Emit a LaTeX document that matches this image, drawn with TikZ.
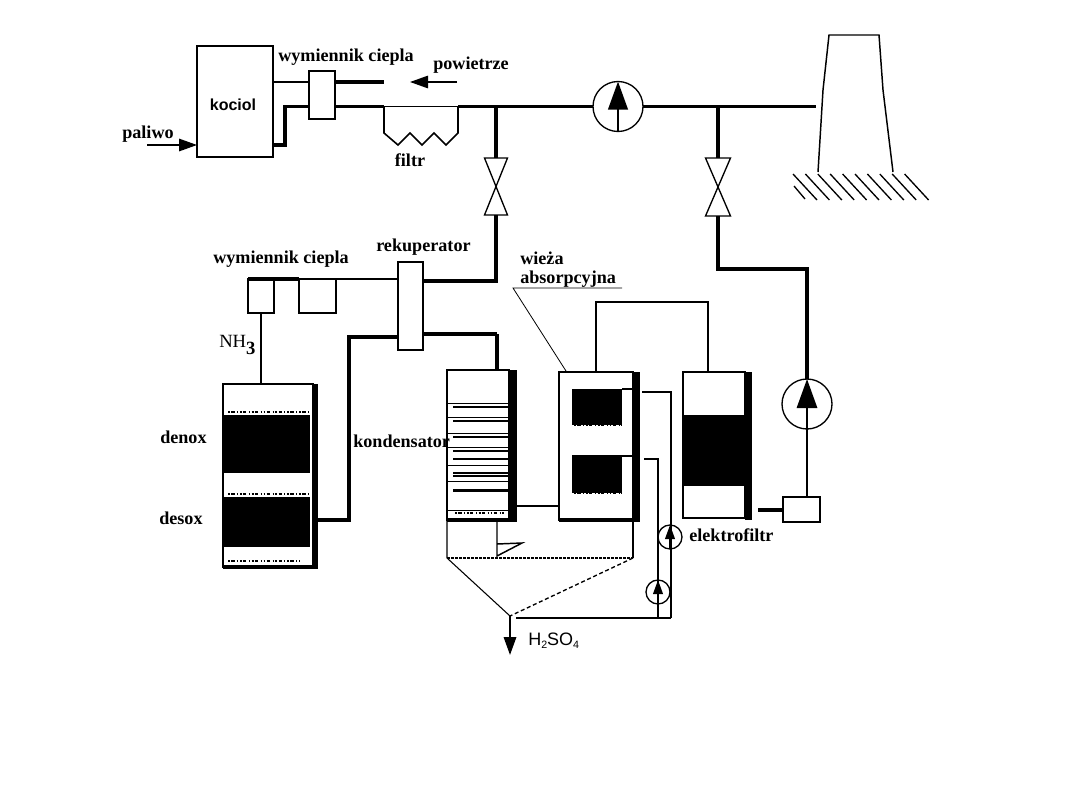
\documentclass[tikz,border=0pt]{standalone}
\usepackage{fontspec}
\usepackage{tikz}
\usetikzlibrary{arrows.meta,calc}
\setmainfont{Liberation Serif}
\newfontfamily\sanslabel{Liberation Sans}

\tikzset{
  txt/.style={inner sep=0pt,font=\fontsize{13.6}{15}\selectfont\bfseries},
  unit/.style 2 args={draw,line width=1pt,inner sep=0pt,outer sep=0pt,minimum width=#1*0.75pt,minimum height=#2*0.75pt},
  ghost/.style 2 args={inner sep=0pt,outer sep=0pt,minimum width=#1*0.75pt,minimum height=#2*0.75pt},
  fan/.style={draw,circle,line width=1pt,inner sep=0pt,outer sep=0pt,minimum size=#1*0.75pt},
  thinline/.style={line width=0.9pt},
  pipe/.style={line width=1.9pt},
  heavy/.style={line width=2.8pt},
  flowhead/.style={-{Triangle[length=#1*0.75pt,width=#1*0.52pt]}},
  speckle/.style={line width=1.6pt,dash pattern=on 1.4pt off 0.9pt on 2.6pt off 1.8pt on 0.8pt off 1.4pt},
}

\begin{document}
\begin{tikzpicture}[x=0.75pt,y=0.75pt,yscale=-1,xscale=1]
\useasboundingbox (0,0) rectangle (1080,810);

% boiler, exchanger, filter
\node[unit={76}{111}] (kociol) at (235,101.5) {};
\node[unit={26}{48}] (wymA) at (322,95) {};
\node[ghost={74}{39}] (filtr) at (421,126) {};
\coordinate (air) at (384,82);
\coordinate (airtip) at (410,82);
\coordinate (airtail) at (457,82);
\coordinate (fuel) at (147,145);
\coordinate (bend) at (285,145);

\draw[thinline] (kociol.east |- air) -- (wymA.west |- air);
\draw[heavy] (wymA.east |- air) -- (air);
\draw[flowhead=18,line width=1pt] (airtail) -- (airtip);
\draw[heavy] (kociol.east |- bend) -- (bend) -- (bend |- filtr.north) -- (wymA.west |- filtr.north);
\draw[heavy] (wymA.east |- filtr.north) -- (filtr.north west);
\draw[thinline] (filtr.north west) -- (filtr.north east);
\draw[flowhead=18,line width=1.2pt] (fuel) -- (kociol.west |- fuel);
\draw[line width=1.2pt] (filtr.north west) -- (384,133) -- (398,145) -- (410,133) -- (422,145) -- (434,133) -- (446,145) -- (458,133) -- (filtr.north east);

% main flue line
\node[fan=50] (fanA) at (618,106.5) {};
\node[ghost={23}{57}] (valveA) at (496,186.5) {};
\node[ghost={25}{58}] (valveB) at (718,187) {};
\coordinate (stack) at (816,106.5);
\draw[heavy] (filtr.north east) -- (fanA.west);
\draw[pipe] (fanA.east) -- (stack);
\draw[heavy] (valveA.north |- fanA.west) -- (valveA.north);
\draw[heavy] (valveB.north |- stack) -- (valveB.north);
\draw[flowhead=28,line width=2pt] (fanA.south) -- (fanA.north);

\foreach \v in {valveA,valveB}
  \draw[line width=1pt] (\v.north west) -- (\v.north east) -- (\v.south west) -- (\v.south east) -- cycle;

% stack and ground
\draw[line width=1.1pt] (818,172) -- (823,90) -- (829,35) -- (879,35) -- (883,90) -- (893,172);
\foreach \i in {0,...,9}
  \draw[line width=1pt] ({793+12.4*\i},174) -- ++(24,26);
\coordinate (shortA) at (794,186);
\coordinate (shortB) at (805,199);
\draw[line width=1pt] (shortA) -- (shortB);

% denox / desox line
\node[unit={26}{34}] (wymB) at (261,296) {};
\node[unit={37}{34}] (wymC) at (317.5,296) {};
\node[unit={25}{88}] (rekup) at (410.5,306) {};
\node[unit={90}{183}] (reaktor) at (268,475.5) {};
\fill (reaktor.north east) rectangle ++(5,185);
\draw[heavy] (reaktor.south west) -- ($(reaktor.south east)+(5,0)$);
\fill (223,415) rectangle (310,473);
\fill (223,497) rectangle (310,547);
\draw[speckle] (228,412) -- (310,412);
\draw[speckle] (228,494) -- (310,494);
\draw[speckle,line width=0.9pt] (228,561) -- (300,561);

\coordinate (hotA) at (496,281);
\coordinate (hotB) at (497,334);
\coordinate (feed) at (349,337);
\coordinate (feedlow) at (349,520);
\draw[heavy] (wymB.north west) -- (wymB.north east) -- (wymC.north west);
\draw[pipe] (wymC.north east) -- (rekup.west |- wymC.north east);
\draw[pipe] (wymB.south) -- (wymB.south |- reaktor.north);
\draw[heavy] (reaktor.east |- feedlow) ++(5,0) -- (feedlow) -- (feed) -- (rekup.west |- feed);
\draw[heavy] (rekup.east |- hotA) -- (hotA) -- (valveA.south);
\draw[heavy] (rekup.east |- hotB) -- (hotB);

% condenser
\node[unit={62}{150}] (kond) at (478,445) {};
\fill (kond.north east) rectangle ++(8,152);
\draw[heavy] (kond.south west) -- ($(kond.south east)+(8,0)$);
\draw[heavy] (hotB) -- (hotB |- kond.north);
\foreach \y in {403,417,433,447,465,481,510}
  \draw[line width=0.7pt] (447,\y) -- (509,\y);
\foreach \y in {407,421,437,451,459,473,476,490,491}
  \draw[line width=1.3pt] (453,\y) -- (509,\y);
\draw[speckle,line width=0.8pt] (455,513) -- (505,513);

% absorber
\node[unit={74}{148}] (wieza) at (596,446) {};
\fill (wieza.north east) rectangle ++(7,150);
\draw[heavy] (wieza.south west) -- ($(wieza.south east)+(7,0)$);
\fill (572,389) rectangle (622,425);
\fill (572,455) rectangle (622,493);
\draw[thinline] (622,389) -- (632,389);
\draw[thinline] (622,456) -- (632,456);
\draw[speckle] (574,425) -- (622,425);
\draw[speckle] (574,493) -- (622,493);

% electrofilter
\node[unit={62}{146}] (elfiltr) at (714,445) {};
\fill (elfiltr.north east) rectangle ++(7,148);
\draw[pipe] (elfiltr.south west) -- ($(elfiltr.south east)+(7,0)$);
\fill (683,415) rectangle (745,486);
\node[unit={37}{25}] (elbox) at (801.5,509.5) {};

\coordinate (link) at (530,506);
\coordinate (elout) at (758,510);
\coordinate (upA) at (596,302);
\coordinate (upB) at (708,302);
\coordinate (elbend) at (718,269);
\coordinate (elcorner) at (807,269);
\draw[pipe] (kond.east |- link) ++(8,0) -- (wieza.west |- link);
\draw[pipe] (wieza.north -| upA) -- (upA) -- (upB) -- (elfiltr.north -| upB);
\draw[heavy] (elout) -- (elbox.west |- elout);

% right hand fan
\node[fan=50] (fanB) at (807,404) {};
\draw[flowhead=29,line width=2pt] (elbox.north -| fanB.south) -- (fanB.north);
\draw[heavy] (fanB.north) -- (elcorner) -- (elbend) -- (valveB.south);

% recirculation pumps
\node[fan=24] (pumpA) at (670,537) {};
\node[fan=24] (pumpB) at (658,592) {};
\coordinate (retA) at (642,392);
\coordinate (retB) at (644,459);
\coordinate (apex) at (510,616);
\coordinate (retC) at (516,618);
\coordinate (retD) at (671,618);
\coordinate (retE) at (658,618);
\coordinate (acid) at (510,655);
\draw[pipe] (retC) -- (retD);
\draw[thinline] (retA) -- (retA -| retD) -- (retD);
\draw[thinline] (retB) -- (retB -| retE) -- (retE);
\draw[flowhead=14,line width=1.2pt] (pumpA.south) -- (pumpA.north);
\draw[flowhead=14,line width=1.2pt] (pumpB.south) -- (pumpB.north);

% sump under condenser and absorber
\coordinate (sumpL) at (447,558);
\coordinate (sumpR) at (633,558);
\draw[line width=0.8pt] (kond.south west) -- (sumpL) -- (apex);
\draw[line width=0.8pt] (wieza.south east) ++(0,2) -- (sumpR);
\draw[dash pattern=on 2pt off 1pt,line width=0.8pt] (sumpL) -- (sumpR);
\draw[densely dashed,line width=1pt] (sumpR) -- (apex);
\draw[flowhead=18,line width=1.4pt] (apex) -- (acid);
\coordinate (drain) at (497,544);
\coordinate (drainlow) at (497,556);
\coordinate (draintip) at (522,543);
\draw[line width=1.1pt] (drain |- kond.south) -- (drainlow) -- (draintip) -- (drain);

% leader to absorber
\coordinate (leader) at (513,288);
\coordinate (leaderend) at (622,288);
\coordinate (leadertip) at (566,371);
\draw[line width=0.6pt] (leaderend) -- (leader) -- (leadertip);

% Text Node
\node[txt,anchor=west] (t1) at (278,57) {wymiennik ciepla};
\node[txt,anchor=west] (t2) at (433,65) {powietrze};
\node[txt,anchor=west] (t3) at (122,134) {paliwo};
\node[txt] (t4) at (410,160) {filtr};
\node[inner sep=0pt,font=\sanslabel\fontsize{12}{14}\selectfont\bfseries] (t5) at (233,105) {kociol};
\node[txt,anchor=west] (t6) at (213,259) {wymiennik ciepla};
\node[txt,anchor=west] (t7) at (376,247) {rekuperator};
\node[txt,anchor=west] (t8) at (520,258) {wieża};
\node[txt,anchor=west] (t9) at (520,279) {absorpcyjna};
\node[inner sep=0pt,anchor=west,font=\fontsize{14}{16}\selectfont] (t10) at (219,345) {NH\raisebox{-5.5pt}{\textbf{3}}};
\node[txt,anchor=west] (t11) at (160,437) {denox};
\node[txt,anchor=west] (t12) at (159,518) {desox};
\node[txt,anchor=west] (t13) at (353,441) {kondensator};
\node[txt,anchor=west] (t14) at (689,535) {elektrofiltr};
\node[inner sep=0pt,anchor=west,font=\sanslabel\fontsize{13.5}{15}\selectfont] (t15) at (528,641) {H\raisebox{-2.5pt}{\fontsize{8}{9}\selectfont 2}SO\raisebox{-2.5pt}{\fontsize{8}{9}\selectfont 4}};

\end{tikzpicture}
\end{document}
